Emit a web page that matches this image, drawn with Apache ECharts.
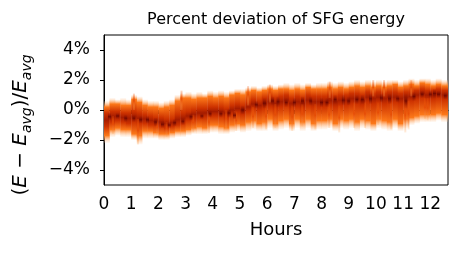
<!DOCTYPE html>
<html>
<head>
<meta charset="utf-8">
<script src="https://cdn.jsdelivr.net/npm/echarts@6/dist/echarts.min.js"></script>
<style>html,body{margin:0;padding:0;background:#fff}#c{width:467px;height:254px}</style>
</head>
<body>
<div id="c"></div>
<script>
// time bins (hours), each 0.2 h wide, starting at binStart[i]
const binWidth = 0.2;
const binStart = [0,0.2,0.4,0.6,0.8,1,1.2,1.4,1.6,1.8,2,2.2,2.4,2.6,2.8,3,3.2,3.4,3.6,3.8,4,4.2,4.4,4.6,4.8,5,5.2,5.4,5.6,5.8,6,6.2,6.4,6.6,6.8,7,7.2,7.4,7.6,7.8,8,8.2,8.4,8.6,8.8,9,9.2,9.4,9.6,9.8,10,10.2,10.4,10.6,10.8,11,11.2,11.4,11.6,11.8,12,12.2,12.4,12.6];
// density envelopes (percent deviation)
const faintHi = [0.6,0.8,0.7,0.8,0.7, 1.0,0.9,0.7,0.6,0.6, 0.5,0.6,0.7,1.0,1.1, 1.2,1.1,1.2,1.1,1.3, 1.2,1.3,1.2,1.3,1.4, 1.4,1.5,1.6,1.5,1.6, 1.7,1.6,1.7,1.8,1.7, 1.8,1.7,1.8,1.7,1.8, 1.8,1.9,1.8,1.9,1.8, 1.9,2.0,1.9,2.0,1.9, 2.0,1.9,2.0,2.0,1.9, 2.0,2.1,2.0,2.1,2.1, 2.0,2.1,2.0,2.0];
const orangeHi = [0.2,0.4,0.4,0.3,0.3, 0.7,0.5,0.3,0.2,0.2, 0.1,0.2,0.3,0.6,0.8, 0.8,0.7,0.8,0.8,0.9, 0.8,0.9,0.8,1.0,1.1, 1.0,1.2,1.3,1.2,1.3, 1.4,1.3,1.4,1.4,1.3, 1.4,1.3,1.5,1.4,1.4, 1.4,1.5,1.4,1.5,1.4, 1.5,1.6,1.5,1.6,1.5, 1.6,1.5,1.6,1.7,1.5, 1.6,1.7,1.6,1.8,1.7, 1.6,1.7,1.6,1.6];
const darkHi = [-0.2,-0.1,-0.1,-0.2,-0.2, -0.1,-0.2,-0.3,-0.4,-0.5, -0.5,-0.6,-0.6,-0.3,-0.2, -0.1,0.0,0.1,0.1,0.2, 0.2,0.2,0.1,0.3,0.4, 0.3,0.5,0.7,0.6,0.8, 0.9,0.8,0.9,1.0,0.8, 0.9,0.8,1.0,0.9,0.9, 0.9,1.0,0.9,1.0,1.0, 1.1,1.1,1.0,1.2,1.1, 1.2,1.1,1.2,1.2,1.1, 1.2,1.2,1.3,1.4,1.3, 1.3,1.4,1.3,1.3];
const darkLo = [-1.1,-0.8,-0.7,-0.8,-0.9, -0.8,-0.9,-0.9,-1.0,-1.0, -1.1,-1.2,-1.1,-1.0,-0.9, -0.7,-0.6,-0.5,-0.5,-0.4, -0.4,-0.4,-0.5,-0.3,-0.2, -0.3,-0.1,0.1,0.0,0.1, 0.2,0.1,0.2,0.3,0.1, 0.2,0.1,0.3,0.2,0.2, 0.2,0.3,0.2,0.3,0.3, 0.4,0.4,0.3,0.5,0.4, 0.5,0.4,0.5,0.5,0.4, 0.5,0.6,0.7,0.8,0.7, 0.7,0.8,0.7,0.7];
const orangeLo = [-1.7,-1.3,-1.2,-1.3,-1.3, -1.6,-1.7,-1.4,-1.4,-1.5, -1.6,-1.6,-1.5,-1.4,-1.4, -1.3,-1.2,-1.1,-1.2,-1.0, -1.0,-1.1,-1.2,-1.0,-0.9, -1.0,-0.8,-0.7,-0.9,-0.8, -0.6,-0.9,-0.7,-0.6,-0.9, -0.6,-0.8,-0.6,-0.9,-0.7, -0.7,-0.6,-0.9,-0.6,-0.7, -0.6,-0.8,-0.6,-0.7,-0.9, -0.6,-0.7,-0.8,-0.6,-0.9, -0.6,-0.5,-0.4,-0.3,-0.3, -0.3,-0.2,-0.3,-0.3];
const faintLo = [-2.2,-1.8,-1.7,-1.8,-1.8, -2.0,-2.3,-1.9,-1.9,-1.9, -2.0,-2.0,-1.9,-1.8,-1.8, -1.7,-1.6,-1.6,-1.6,-1.5, -1.5,-1.6,-1.6,-1.5,-1.4, -1.5,-1.4,-1.3,-1.4,-1.4, -1.2,-1.4,-1.3,-1.2,-1.4, -1.2,-1.4,-1.2,-1.4,-1.3, -1.3,-1.2,-1.4,-1.2,-1.3, -1.2,-1.4,-1.2,-1.3,-1.4, -1.2,-1.3,-1.4,-1.2,-1.4, -1.2,-1.0,-0.9,-0.8,-0.8, -0.8,-0.7,-0.8,-0.8];
// individual vertical streaks seen in the picture: time (h), low and high end (%)
const streakT  = [0.33,1.25,1.95,2.3,3.28,3.86,4.49,4.86,5.48,5.96,6.3,6.92,7.29,7.77,8.28,8.65,9.2,9.6,10.08,10.56,11.08,11.2,11.8,11.9, 1.1,2.85,5.3,6.1,8.3,9.9,10.3,11.3];
const streakLo = [-1.6,-2.3,-1.7,-1.8,-1.5,-1.55,-1.3,-1.4,-1.2,-1.3,-1.2,-1.4,-1.1,-1.3,-1.2,-1.5,-1.2,-1.2,-1.0,-1.3,-1.5,-1.3,-0.6,-0.7, 0.0,0.0,0.3,0.5,0.8,0.9,0.9,0.9];
const streakHi = [-0.4,-0.6,-0.7,-0.8,-0.3,-0.2,0.0,-0.1,0.2,0.3,0.4,0.3,0.4,0.4,0.4,0.3,0.5,0.5,0.5,0.5,0.6,0.6,0.8,0.8, 1.1,1.3,1.6,1.7,1.9,2.0,2.0,2.0];
// dark red spots: time (h), low and high end (%)
const spotT  = [0.2,0.5,0.8,1.1,1.35,1.6,1.9,2.15,2.4,2.6,2.9,3.2,3.6,3.9,4.3,4.6,4.8,5.1,5.6,5.9,6.2,6.4,6.7,7.0,7.3,7.6,8.0,8.2,8.5,8.8,9.0,9.3,9.5,9.8,10.2,10.5,10.8,11.1,11.4,11.7,12.0,12.15,12.3,12.55];
const spotLo = [-0.7,-0.6,-0.8,-0.8,-0.9,-0.9,-1.1,-1.2,-1.2,-1.1,-1.0,-0.7,-0.6,-0.5,-0.5,-0.5,-0.6,-0.3,0.1,0.1,0.3,0.2,0.2,0.2,0.3,0.3,0.2,0.2,0.4,0.3,0.3,0.4,0.4,0.4,0.5,0.4,0.5,0.1,0.6,0.8,0.8,0.8,0.8,0.7];
const spotHi = [-0.2,-0.2,-0.3,-0.3,-0.4,-0.4,-0.5,-0.7,-0.8,-0.6,-0.5,-0.2,-0.2,0.0,0.0,0.1,-0.1,0.3,0.6,0.8,0.9,0.9,0.8,0.8,0.9,0.9,0.8,0.8,1.0,1.0,0.9,1.0,1.0,1.1,1.1,1.1,1.0,1.1,1.2,1.3,1.3,1.4,1.3,1.2];
const xTicks = [0,1,2,3,4,5,6,7,8,9,10,11,12];
const yTicks = [-4,-2,0,2,4];
const xMax = 12.65;

const chart = echarts.init(document.getElementById('c'));
const bandData = binStart.map((t, i) => [t, t + binWidth, faintLo[i], orangeLo[i], darkLo[i], darkHi[i], orangeHi[i], faintHi[i]]);
const streakData = streakT.map((t, i) => [t, streakLo[i], streakHi[i]]);
const spotData = spotT.map((t, i) => [t, spotLo[i], spotHi[i]]);

function clipToGrid(params, rect) {
  const cs = params.coordSys;
  return echarts.graphic.clipRectByRect(rect, {x: cs.x, y: cs.y, width: cs.width, height: cs.height});
}

function renderBand(params, api) {
  const t0 = api.value(0), t1 = api.value(1);
  const fLo = api.value(2), oLo = api.value(3), dLo = api.value(4), dHi = api.value(5), oHi = api.value(6), fHi = api.value(7);
  const pTop = api.coord([t0, fHi]);
  const pBot = api.coord([t1, fLo]);
  const span = fHi - fLo;
  const pos = v => Math.min(1, Math.max(0, (fHi - v) / span));
  const mid = (dHi + dLo) / 2;
  const grad = new echarts.graphic.LinearGradient(0, 0, 0, 1, [
    {offset: 0, color: 'rgba(255,210,170,0.12)'},
    {offset: pos(oHi), color: 'rgb(252,120,25)'},
    {offset: pos(dHi), color: 'rgb(205,50,0)'},
    {offset: pos(mid), color: 'rgb(165,28,0)'},
    {offset: pos(dLo), color: 'rgb(205,50,0)'},
    {offset: pos(oLo), color: 'rgb(252,120,25)'},
    {offset: 1, color: 'rgba(255,210,170,0.12)'}
  ]);
  const shape = clipToGrid(params, {x: pTop[0], y: pTop[1], width: pBot[0] - pTop[0] + 0.4, height: pBot[1] - pTop[1]});
  if (!shape) return;
  return {type: 'rect', shape: shape, style: {fill: grad}};
}

function renderStreak(params, api) {
  const t = api.value(0), lo = api.value(1), hi = api.value(2);
  const pTop = api.coord([t, hi]);
  const pBot = api.coord([t, lo]);
  const shape = clipToGrid(params, {x: pTop[0] - 1, y: pTop[1], width: 2, height: pBot[1] - pTop[1]});
  if (!shape) return;
  const grad = new echarts.graphic.LinearGradient(0, 0, 0, 1, [
    {offset: 0, color: 'rgba(240,90,10,0.2)'},
    {offset: 0.45, color: 'rgba(230,75,5,0.85)'},
    {offset: 1, color: 'rgba(255,170,90,0.2)'}
  ]);
  return {type: 'rect', shape: shape, style: {fill: grad}};
}

function renderSpot(params, api) {
  const t = api.value(0), lo = api.value(1), hi = api.value(2);
  const pTop = api.coord([t, hi]);
  const pBot = api.coord([t, lo]);
  const shape = clipToGrid(params, {x: pTop[0] - 1.5, y: pTop[1], width: 3, height: pBot[1] - pTop[1]});
  if (!shape) return;
  const grad = new echarts.graphic.LinearGradient(0, 0, 0, 1, [
    {offset: 0, color: 'rgba(160,25,0,0.1)'},
    {offset: 0.5, color: 'rgba(105,5,0,0.85)'},
    {offset: 1, color: 'rgba(160,25,0,0.1)'}
  ]);
  return {type: 'rect', shape: shape, style: {fill: grad}};
}

const font = 'DejaVu Sans';
chart.setOption({
  animation: false,
  backgroundColor: '#fff',
  title: {
    text: 'Percent deviation of SFG energy',
    left: 271, top: 7, textAlign: 'center',
    textStyle: {fontFamily: font, fontSize: 16, fontWeight: 'normal', color: '#000'}
  },
  grid: {left: 104, right: 19, top: 35, bottom: 69, show: true, borderColor: '#000', borderWidth: 1, backgroundColor: 'transparent'},
  xAxis: {
    type: 'value', min: 0, max: xMax,
    name: 'Hours', nameLocation: 'middle', nameGap: 36,
    nameTextStyle: {fontFamily: font, fontSize: 18, color: '#000'},
    axisLine: {lineStyle: {color: '#000', width: 1}},
    axisTick: {show: true, length: 4, lineStyle: {color: '#000'}, customValues: xTicks},
    axisLabel: {customValues: xTicks, fontFamily: font, fontSize: 17, color: '#000', margin: 11},
    splitLine: {show: false}
  },
  yAxis: {
    type: 'value', min: -5, max: 5,
    name: '({i|E} − {i|E}{s|avg})/{i|E}{s|avg}', nameLocation: 'middle', nameGap: 70, nameRotate: 90,
    nameTextStyle: {
      fontFamily: font, fontSize: 20, color: '#000', padding: [0, 30, 0, 0],
      rich: {
        i: {fontFamily: font, fontSize: 20, fontStyle: 'italic', color: '#000'},
        s: {fontFamily: font, fontSize: 14, fontStyle: 'italic', color: '#000', padding: [12, 0, 0, 0]}
      }
    },
    axisLine: {show: true, lineStyle: {color: '#000', width: 1}},
    axisTick: {show: true, length: 4, lineStyle: {color: '#000'}, customValues: yTicks},
    axisLabel: {customValues: yTicks, fontFamily: font, fontSize: 17, color: '#000', margin: 14,
      formatter: v => (v < 0 ? '−' + Math.abs(v) : String(v)) + '%'},
    splitLine: {show: false}
  },
  series: [
    {type: 'custom', renderItem: renderBand, data: bandData, encode: {x: [0, 1], y: [2, 7]}},
    {type: 'custom', renderItem: renderStreak, data: streakData, encode: {x: 0, y: [1, 2]}},
    {type: 'custom', renderItem: renderSpot, data: spotData, encode: {x: 0, y: [1, 2]}}
  ]
});
</script>
</body>
</html>
